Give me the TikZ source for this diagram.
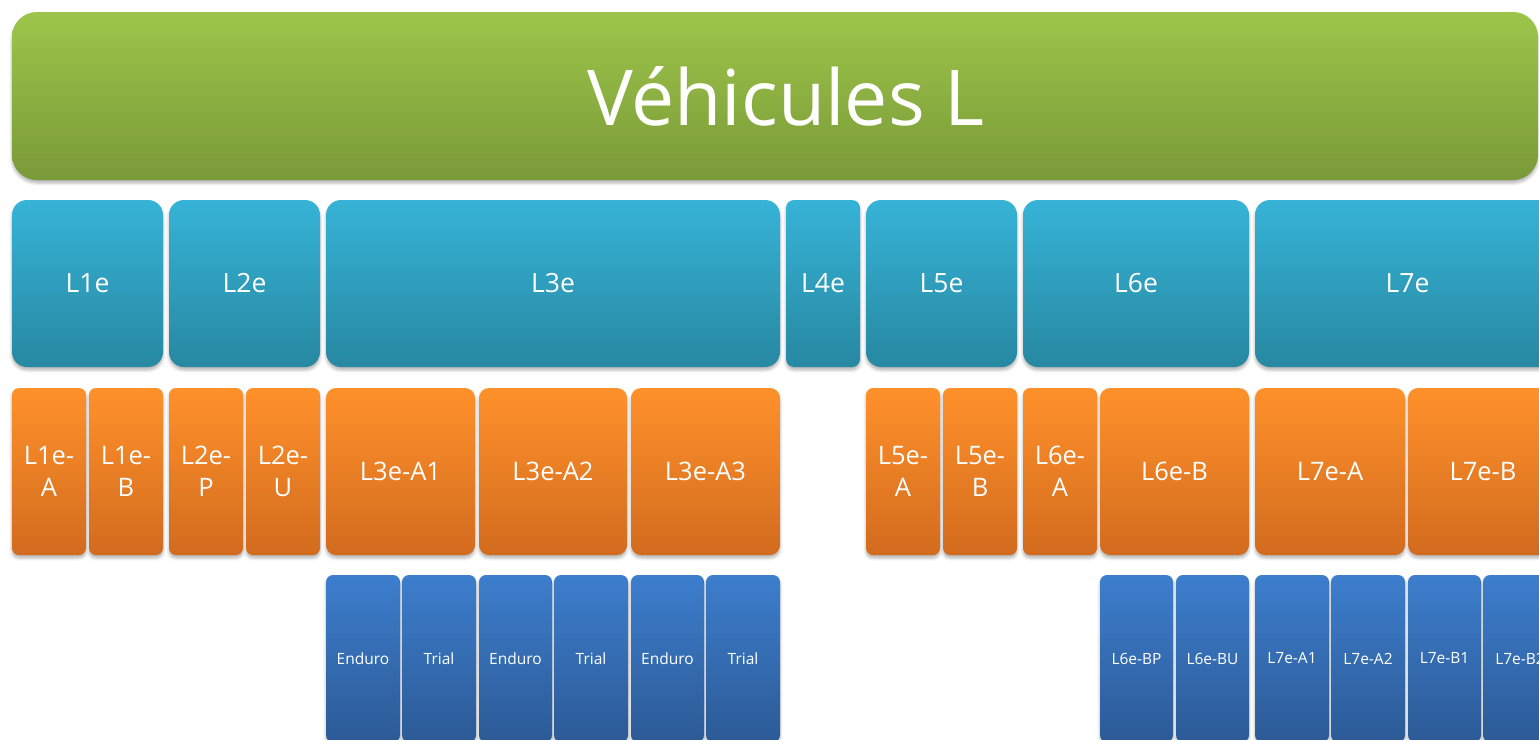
\documentclass[tikz,border=0pt]{standalone}
\usepackage{fontspec}
\setmainfont{Open Sans}
\usetikzlibrary{shadows.blur}

\definecolor{grnT}{HTML}{9DC54A}
\definecolor{grnB}{HTML}{7A9A38}
\definecolor{cyaT}{HTML}{36B3D7}
\definecolor{cyaB}{HTML}{2788A1}
\definecolor{orgT}{HTML}{FF912B}
\definecolor{orgB}{HTML}{D26B1E}
\definecolor{bluT}{HTML}{3D7ECD}
\definecolor{bluB}{HTML}{2C5A96}

\tikzset{
  tile/.style={rectangle, inner sep=0pt, text=white, align=center,
    blur shadow={shadow xshift=0pt, shadow yshift=-3pt,
                 shadow blur radius=3pt, shadow opacity=30}},
  titlebox/.style={tile, rounded corners=25pt, top color=grnT, bottom color=grnB,
    font=\fontsize{77}{84}\selectfont},
  classbox/.style={tile, rounded corners=15pt, top color=cyaT, bottom color=cyaB,
    font=\fontsize{26.5}{30}\selectfont},
  nclassbox/.style={tile, rounded corners=8pt, top color=cyaT, bottom color=cyaB,
    font=\fontsize{26.5}{30}\selectfont},
  subbox/.style={tile, rounded corners=10pt, top color=orgT, bottom color=orgB,
    font=\fontsize{25.5}{32}\selectfont},
  nsubbox/.style={tile, rounded corners=7pt, top color=orgT, bottom color=orgB,
    font=\fontsize{25.5}{32}\selectfont},
  varbox/.style={tile, rounded corners=7pt, top color=bluT, bottom color=bluB,
    font=\fontsize{15.5}{18}\selectfont},
}

% \tile{name}{x1}{y1}{x2}{y2}{style}{text}
\newcommand\tile[7]{%
  \node[#6, minimum width={(#4-#2)*1pt}, minimum height={(#5-#3)*1pt}]
    (#1) at ({(#2+#4)/2},{(#3+#5)/2}) {#7};}

\begin{document}
\begin{tikzpicture}[x=1pt,y=-1pt]
  \useasboundingbox (0,0) rectangle (1539,739);
  \clip (0,0) rectangle (1539,739);

  % header
  \tile{title}{12}{12}{1538}{180}{titlebox}{\hspace*{22pt}Véhicules L}

  % categories
  \tile{l1e}{12}{200}{163}{367}{classbox}{L1e}
  \tile{l2e}{169}{200}{320}{367}{classbox}{L2e}
  \tile{l3e}{326}{200}{780}{367}{classbox}{L3e}
  \tile{l4e}{786}{200}{860}{367}{nclassbox}{L4e}
  \tile{l5e}{866}{200}{1017}{367}{classbox}{L5e}
  \tile{l6e}{1023}{200}{1249}{367}{classbox}{L6e}
  \tile{l7e}{1255}{200}{1560}{367}{classbox}{L7e}

  % sub-categories
  \tile{l1ea}{12}{388}{86}{555}{nsubbox}{L1e-\\A}
  \tile{l1eb}{89}{388}{163}{555}{nsubbox}{L1e-\\B}
  \tile{l2ep}{169}{388}{243}{555}{nsubbox}{L2e-\\P}
  \tile{l2eu}{246}{388}{320}{555}{nsubbox}{L2e-\\U}
  \tile{l3ea1}{326}{388}{475}{555}{subbox}{L3e-A1}
  \tile{l3ea2}{479}{388}{627}{555}{subbox}{L3e-A2}
  \tile{l3ea3}{631}{388}{780}{555}{subbox}{L3e-A3}
  \tile{l5ea}{866}{388}{940}{555}{nsubbox}{L5e-\\A}
  \tile{l5eb}{943}{388}{1017}{555}{nsubbox}{L5e-\\B}
  \tile{l6ea}{1023}{388}{1097}{555}{nsubbox}{L6e-\\A}
  \tile{l6eb}{1100}{388}{1249}{555}{subbox}{L6e-B}
  \tile{l7ea}{1255}{388}{1405}{555}{subbox}{L7e-A}
  \tile{l7eb}{1408}{388}{1558}{555}{subbox}{L7e-B}

  % variants
  \tile{a1en}{326}{575}{400}{742}{varbox}{Enduro}
  \tile{a1tr}{402}{575}{476}{742}{varbox}{Trial}
  \tile{a2en}{479}{575}{552}{742}{varbox}{Enduro}
  \tile{a2tr}{554}{575}{628}{742}{varbox}{Trial}
  \tile{a3en}{631}{575}{704}{742}{varbox}{Enduro}
  \tile{a3tr}{706}{575}{780}{742}{varbox}{Trial}
  \tile{l6ebp}{1100}{575}{1173}{742}{varbox}{L6e-BP}
  \tile{l6ebu}{1176}{575}{1249}{742}{varbox}{L6e-BU}
  \tile{l7ea1}{1255}{575}{1329}{742}{varbox}{L7e-A1}
  \tile{l7ea2}{1331}{575}{1405}{742}{varbox}{L7e-A2}
  \tile{l7eb1}{1408}{575}{1481}{742}{varbox}{L7e-B1}
  \tile{l7eb2}{1483}{575}{1557}{742}{varbox}{L7e-B2}
\end{tikzpicture}
\end{document}
